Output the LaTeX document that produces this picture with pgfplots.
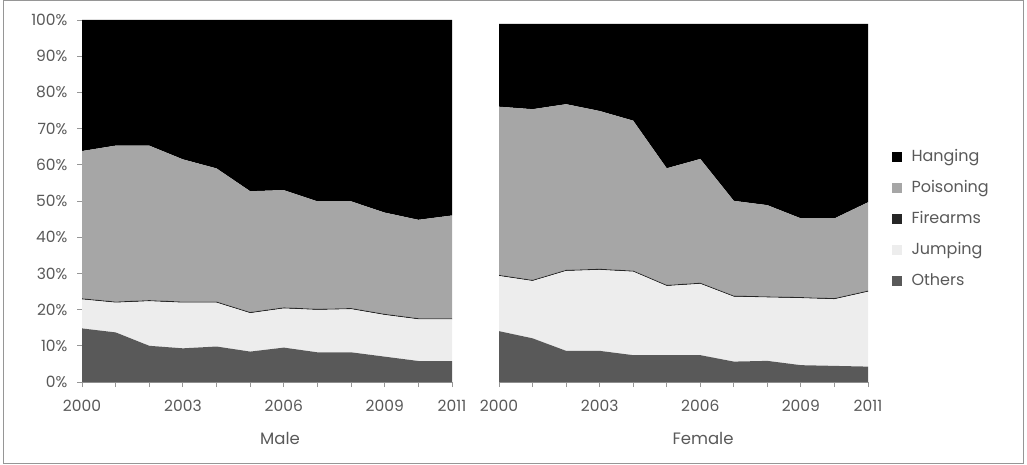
\documentclass[border=0pt]{standalone}
\usepackage{pgfplots}
\pgfplotsset{compat=1.18}
\usepackage{fontspec}
\setmainfont{Poppins}
\definecolor{cHang}{RGB}{0,0,0}
\definecolor{cPois}{RGB}{166,166,166}
\definecolor{cFire}{RGB}{38,38,38}
\definecolor{cJump}{RGB}{237,237,237}
\definecolor{cOth}{RGB}{89,89,89}
\definecolor{txt}{RGB}{89,89,89}
\definecolor{axl}{RGB}{150,150,150}
\begin{document}
\begin{tikzpicture}
\useasboundingbox (0,0) rectangle (1027pt,-465pt);
\draw[axl, line width=1pt] (3pt,-1pt) rectangle (1023pt,-463pt);
\pgfplotsset{
  myax/.style={
    scale only axis, anchor=south west,
    xmin=2000, xmax=2011, ymin=0, ymax=100,
    stack plots=y,
    axis x line*=bottom,
    xtick={2000,...,2011},
    xticklabels={2000,,,2003,,,2006,,,2009,,2011},
    tick align=outside, major tick length=5pt,
    tick style={axl, line width=0.8pt},
    axis line style={axl, line width=0.8pt},
    ticklabel style={font=\fontsize{15.5}{17}\selectfont, text=txt},
    xticklabel style={yshift=-10pt},
    /pgf/number format/assume math mode=true,
    clip=true,
  },
}
\begin{axis}[myax, at={(82pt,-382pt)}, width=370pt, height=362pt,
  axis y line*=left,
  ytick={0,10,...,100},
  yticklabels={0\%,10\%,20\%,30\%,40\%,50\%,60\%,70\%,80\%,90\%,100\%},
  yticklabel style={xshift=-6pt},
]
\addplot[fill=cOth, draw=none] coordinates {(2000,14.8)(2001,13.7)(2002,10.0)(2003,9.3)(2004,9.8)(2005,8.4)(2006,9.5)(2007,8.2)(2008,8.2)(2009,7.0)(2010,5.8)(2011,5.8)} \closedcycle;
\addplot[fill=cJump, draw=none] coordinates {(2000,8.0)(2001,8.2)(2002,12.3)(2003,12.6)(2004,12.1)(2005,10.6)(2006,10.8)(2007,11.7)(2008,11.9)(2009,11.5)(2010,11.5)(2011,11.5)} \closedcycle;
\addplot[fill=cFire, draw=none] coordinates {(2000,0.3)(2001,0.3)(2002,0.3)(2003,0.3)(2004,0.3)(2005,0.3)(2006,0.3)(2007,0.3)(2008,0.3)(2009,0.3)(2010,0.3)(2011,0.3)} \closedcycle;
\addplot[fill=cPois, draw=none] coordinates {(2000,40.7)(2001,43.1)(2002,42.7)(2003,39.3)(2004,36.8)(2005,33.4)(2006,32.4)(2007,29.7)(2008,29.5)(2009,28.0)(2010,27.2)(2011,28.4)} \closedcycle;
\addplot[fill=cHang, draw=none] coordinates {(2000,36.2)(2001,34.7)(2002,34.7)(2003,38.5)(2004,41.0)(2005,47.3)(2006,47.0)(2007,50.1)(2008,50.1)(2009,53.2)(2010,55.2)(2011,54.0)} \closedcycle;
\end{axis}
\begin{axis}[myax, at={(499pt,-382pt)}, width=369pt, height=358pt,
  axis y line=none,
  legend cell align=left,
  reverse legend,
  legend image code/.code={\fill[#1] (0pt,-5pt) rectangle (10pt,5pt);},
  legend style={at={(1.055,0.455)}, anchor=west, draw=none, fill=none,
    font=\fontsize{16}{18}\selectfont, text=txt, row sep=15pt,
    nodes={inner sep=1pt, text height=11pt, text depth=3pt},
    /tikz/every odd column/.append style={column sep=9pt}},
]
\addplot[fill=cOth, draw=none] coordinates {(2000,14.2)(2001,12.2)(2002,8.7)(2003,8.7)(2004,7.5)(2005,7.5)(2006,7.5)(2007,5.7)(2008,5.9)(2009,4.7)(2010,4.5)(2011,4.3)} \closedcycle;
\addlegendentry{Others}
\addplot[fill=cJump, draw=none] coordinates {(2000,15.4)(2001,16.0)(2002,22.3)(2003,22.6)(2004,23.3)(2005,19.3)(2006,19.9)(2007,18.1)(2008,17.7)(2009,18.7)(2010,18.6)(2011,20.9)} \closedcycle;
\addlegendentry{Jumping}
\addplot[fill=cFire, draw=none] coordinates {(2000,0.3)(2001,0.3)(2002,0.3)(2003,0.3)(2004,0.3)(2005,0.3)(2006,0.3)(2007,0.3)(2008,0.3)(2009,0.3)(2010,0.3)(2011,0.3)} \closedcycle;
\addlegendentry{Firearms}
\addplot[fill=cPois, draw=none] coordinates {(2000,47.0)(2001,47.7)(2002,46.3)(2003,44.1)(2004,41.9)(2005,32.6)(2006,34.6)(2007,26.5)(2008,25.5)(2009,22.0)(2010,22.3)(2011,24.7)} \closedcycle;
\addlegendentry{Poisoning}
\addplot[fill=cHang, draw=none] coordinates {(2000,23.1)(2001,23.8)(2002,22.4)(2003,24.3)(2004,27.0)(2005,40.3)(2006,37.7)(2007,49.4)(2008,50.6)(2009,54.3)(2010,54.3)(2011,49.8)} \closedcycle;
\addlegendentry{Hanging}
\end{axis}
\node[font=\fontsize{16.5}{18}\selectfont, text=txt] at (280pt,-438pt) {Male};
\node[font=\fontsize{16.5}{18}\selectfont, text=txt] at (703pt,-438pt) {Female};
\end{tikzpicture}
\end{document}
